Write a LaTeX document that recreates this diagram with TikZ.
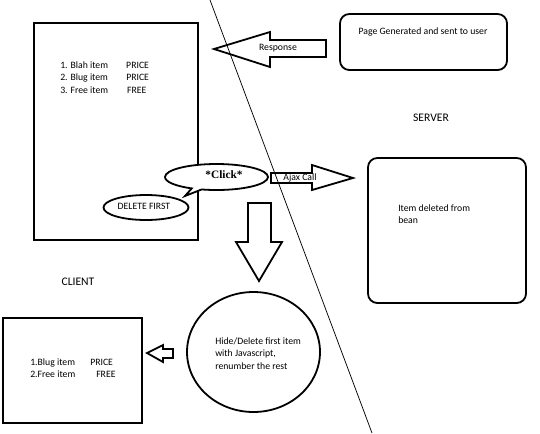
\documentclass[tikz,border=0pt]{standalone}
\usepackage{fontspec}
\setmainfont{Carlito}
\newfontfamily\clickfont{Liberation Serif}
\usetikzlibrary{shapes.geometric,shapes.callouts}
\begin{document}
\begin{tikzpicture}[x=0.75pt,y=-0.75pt,
  box/.style={draw,line width=1.35pt,inner sep=0pt},
  rbox/.style={box,rounded corners=7pt},
  oval/.style={box,ellipse,fill=white},
  blockarrow/.style={draw,line width=1.35pt,line join=miter},
  txt/.style={inner sep=0pt,font=\fontsize{7.3}{9.4}\selectfont},
  big/.style={inner sep=0pt,font=\fontsize{8.7}{10}\selectfont},
  divider/.style={line width=0.55pt}]
\useasboundingbox (0,0) rectangle (540,433);
% dividing line
\coordinate (d1) at (210,0);
\coordinate (d2) at (372,433);
\draw[divider] (d1) -- (d2);
% client page
\node[box,minimum width=123pt,minimum height=162.75pt] (client) at (116,131.5) {};
\node[txt,anchor=west,align=left] (list1) at (60,77.5)
  {\makebox[49.5pt][l]{1. Blah item}PRICE\\
   \makebox[49.5pt][l]{2. Blug item}PRICE\\
   \makebox[50.2pt][l]{3. Free item}FREE};
\node[oval,minimum width=63.75pt,minimum height=18.75pt] (delete) at (146,207.5) {};
\node[txt] (deltxt) at (144,206) {DELETE FIRST};
\node[box,ellipse callout,fill=white,minimum width=77.25pt,minimum height=19.5pt,
  callout absolute pointer={(185,196)},callout pointer arc=12] (click) at (216.5,177) {};
\node[inner sep=0pt,font=\clickfont\bfseries\fontsize{8.5}{10}\selectfont] (clicktxt) at (224,175) {*Click*};
% server side
\node[rbox,minimum width=125.25pt,minimum height=42pt] (page) at (423.5,42) {};
\node[txt] (pagetxt) at (423,32) {Page Generated and sent to user};
\node[big] (server) at (431,118) {SERVER};
\node[rbox,minimum width=118.5pt,minimum height=108.75pt] (bean) at (447,230.5) {};
\node[txt,anchor=west,align=left] (beantxt) at (398,214) {Item deleted from\\bean};
% response arrow
\draw[blockarrow] (214,49) -- (270,32) -- (270,40) -- (326,40) -- (326,57) -- (270,57) -- (270,67) -- cycle;
\node[txt] (resp) at (278,48) {Response};
% ajax arrow
\draw[blockarrow] (271,173) -- (312,173) -- (312,165) -- (353,178) -- (312,190) -- (312,183) -- (271,183) -- cycle;
\node[txt] (ajax) at (300,178) {Ajax Call};
% down arrow
\draw[blockarrow] (248,203) -- (271,203) -- (271,242) -- (282,242) -- (259,281) -- (236,242) -- (248,242) -- cycle;
% hide ellipse
\node[oval,minimum width=99.75pt,minimum height=90pt] (hide) at (253.5,352) {};
\node[txt,anchor=west,align=left] (hidetxt) at (215,353.5)
  {Hide/Delete first item\\with Javascript,\\renumber the rest};
% client label and result page
\node[big] (clientlbl) at (78,282) {CLIENT};
\node[box,minimum width=104.25pt,minimum height=78.75pt] (result) at (72.5,370.5) {};
\node[txt,anchor=west,align=left] (list2) at (30,368)
  {\makebox[45pt][l]{1.Blug item}PRICE\\
   \makebox[49.5pt][l]{2.Free item}FREE};
% small arrow
\draw[blockarrow] (147,353) -- (163,345) -- (163,349) -- (173,349) -- (173,358) -- (163,358) -- (163,362) -- cycle;
\end{tikzpicture}
\end{document}
